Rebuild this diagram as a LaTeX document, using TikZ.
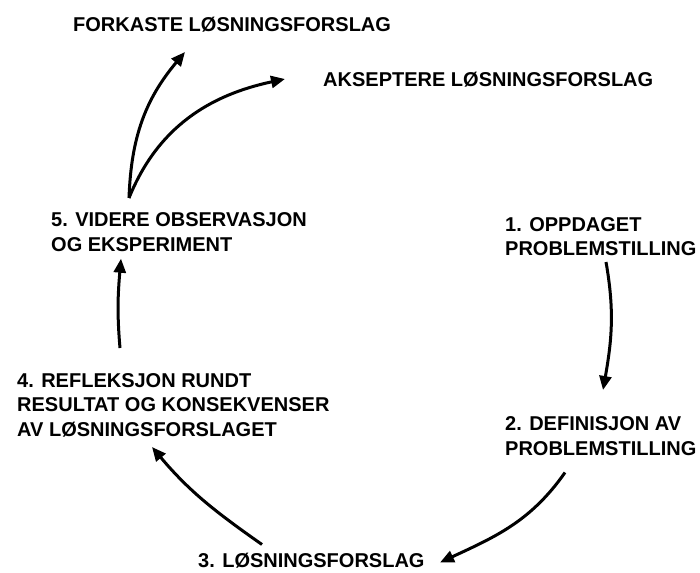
\documentclass[tikz,border=0pt]{standalone}
\usepackage{fontspec}
\setmainfont{Liberation Sans}
\usepackage{tikz}
\usetikzlibrary{arrows.meta}

\begin{document}
\begin{tikzpicture}[x=1pt,y=1pt,
        stage/.style={anchor=north west, inner sep=0pt, align=left,
            font=\bfseries\fontsize{20}{24.5}\selectfont},
        flow/.style={line width=3pt, -{Triangle[length=14pt,width=12pt]}}]
        \useasboundingbox (0,0) rectangle (700,-572);
        % the steps of the cycle
        \node[stage] (fork) at (73,-16.5) {FORKASTE LØSNINGSFORSLAG};
        \node[stage] (aksept) at (323,-72) {AKSEPTERE LØSNINGSFORSLAG};
        \node[stage] (n5) at (51,-212.7) {5. VIDERE OBSERVASJON\\OG EKSPERIMENT};
        \node[stage] (n1) at (505,-217) {1. OPPDAGET\\PROBLEMSTILLING};
        \node[stage] (n4) at (17,-373) {4. REFLEKSJON RUNDT\\RESULTAT OG KONSEKVENSER\\AV LØSNINGSFORSLAGET};
        \node[stage] (n2) at (505,-416.5) {2. DEFINISJON AV\\PROBLEMSTILLING};
        \node[stage] (n3) at (198,-552.5) {3. LØSNINGSFORSLAG};
        % arrows
        \draw[flow] ([shift={(101,-45)}]n1.north west) to[out=-80,in=80] ([shift={(98,26.5)}]n2.north west);
        \draw[flow] ([shift={(60,-56)}]n2.north west) to[out=-125,in=25] ([shift={(242,-10)}]n3.north west);
        \draw[flow] ([shift={(64,8)}]n3.north west) to[out=145,in=-50] ([shift={(135,-74)}]n4.north west);
        \draw[flow] ([shift={(103,25)}]n4.north west) to[out=95,in=-95] ([shift={(70,-46)}]n5.north west);
        \draw[flow] ([shift={(78,14.7)}]n5.north west) to[out=88,in=-130] ([shift={(112,-35.5)}]fork.north west);
        \draw[flow] ([shift={(78,14.7)}]n5.north west) to[out=68,in=-168] ([shift={(-38,-7)}]aksept.north west);
\end{tikzpicture}
\end{document}
